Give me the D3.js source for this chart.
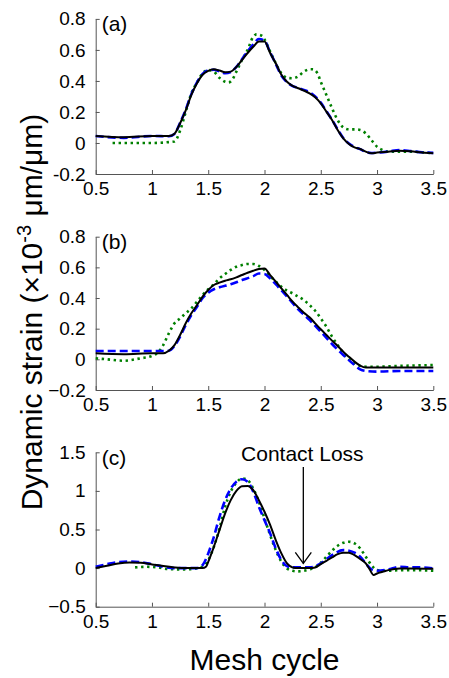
<!DOCTYPE html>
<html>
<head>
<meta charset="utf-8">
<script src="https://cdn.jsdelivr.net/npm/d3@7"></script>
<style>
  body { margin: 0; background: #fff; }
  text { font-family: "Liberation Sans", Arial, sans-serif; fill: #000; }
</style>
</head>
<body>
<script>
const width = 449;
const height = 678;
const marginLeft = 95.7;
const marginRight = 15.7;

const xTicks = [0.5, 1, 1.5, 2, 2.5, 3, 3.5];
const xTickLabels = ["0.5", "1", "1.5", "2", "2.5", "3", "3.5"];

// panel (a)
const aYTicks = [-0.2, 0, 0.2, 0.4, 0.6, 0.8];
const aYLabels = ["-0.2", "0", "0.2", "0.4", "0.6", "0.8"];
const aBlack = [[0.5,0.045],[0.75,0.037],[1.0,0.045],[1.15,0.045],[1.2,0.06],[1.25,0.127],[1.3,0.21],[1.35,0.31],[1.4,0.385],[1.45,0.44],[1.5,0.465],[1.55,0.475],[1.6,0.467],[1.65,0.456],[1.7,0.46],[1.75,0.49],[1.8,0.535],[1.85,0.58],[1.9,0.62],[1.95,0.654],[2.0,0.654],[2.05,0.58],[2.1,0.514],[2.15,0.44],[2.2,0.395],[2.25,0.368],[2.3,0.353],[2.35,0.338],[2.4,0.32],[2.45,0.295],[2.5,0.256],[2.55,0.202],[2.6,0.148],[2.65,0.084],[2.7,0.03],[2.75,-0.006],[2.8,-0.028],[2.85,-0.039],[2.9,-0.056],[2.95,-0.067],[3.0,-0.062],[3.1,-0.056],[3.2,-0.05],[3.3,-0.054],[3.4,-0.062],[3.5,-0.067]];
const aBlue = [[0.5,0.045],[0.75,0.033],[1.0,0.045],[1.15,0.043],[1.2,0.058],[1.25,0.13],[1.3,0.215],[1.35,0.315],[1.4,0.39],[1.45,0.445],[1.5,0.468],[1.55,0.472],[1.6,0.462],[1.65,0.45],[1.7,0.458],[1.75,0.49],[1.8,0.54],[1.85,0.59],[1.9,0.635],[1.95,0.67],[2.0,0.66],[2.05,0.585],[2.1,0.51],[2.15,0.435],[2.2,0.392],[2.25,0.367],[2.3,0.355],[2.35,0.342],[2.4,0.328],[2.45,0.3],[2.5,0.26],[2.55,0.205],[2.6,0.15],[2.65,0.088],[2.7,0.032],[2.75,-0.004],[2.8,-0.026],[2.85,-0.04],[2.9,-0.058],[2.95,-0.065],[3.0,-0.062],[3.1,-0.055],[3.2,-0.046],[3.3,-0.052],[3.4,-0.06],[3.5,-0.064]];
const aGreen = [[0.65,0.0],[1.0,0.0],[1.2,0.01],[1.25,0.08],[1.3,0.2],[1.35,0.32],[1.4,0.39],[1.45,0.45],[1.5,0.47],[1.55,0.46],[1.6,0.42],[1.65,0.395],[1.68,0.39],[1.72,0.415],[1.75,0.46],[1.8,0.535],[1.85,0.6],[1.9,0.686],[1.93,0.7],[1.98,0.69],[2.0,0.668],[2.05,0.59],[2.1,0.514],[2.15,0.45],[2.2,0.42],[2.25,0.417],[2.3,0.43],[2.35,0.46],[2.4,0.475],[2.43,0.475],[2.47,0.45],[2.5,0.395],[2.55,0.31],[2.6,0.224],[2.65,0.148],[2.7,0.1],[2.75,0.088],[2.8,0.088],[2.85,0.084],[2.9,0.062],[2.95,0.019],[3.0,-0.024],[3.05,-0.045],[3.1,-0.056],[3.2,-0.056],[3.3,-0.056],[3.4,-0.06],[3.5,-0.067]];

// panel (b)
const bYTicks = [-0.2, 0, 0.2, 0.4, 0.6, 0.8];
const bYLabels = ["\u22120.2", "0", "0.2", "0.4", "0.6", "0.8"];
const bBlack = [[0.5,0.039],[0.75,0.033],[1.0,0.039],[1.1,0.039],[1.15,0.056],[1.2,0.093],[1.25,0.159],[1.3,0.235],[1.35,0.3],[1.4,0.354],[1.45,0.409],[1.5,0.452],[1.55,0.485],[1.6,0.5],[1.65,0.513],[1.7,0.522],[1.75,0.535],[1.8,0.55],[1.85,0.565],[1.9,0.578],[1.95,0.589],[2.0,0.593],[2.05,0.55],[2.1,0.507],[2.15,0.463],[2.2,0.42],[2.25,0.376],[2.3,0.339],[2.35,0.304],[2.4,0.274],[2.45,0.235],[2.5,0.196],[2.55,0.159],[2.6,0.122],[2.65,0.087],[2.7,0.05],[2.75,0.017],[2.8,-0.015],[2.85,-0.041],[2.9,-0.054],[3.0,-0.054],[3.5,-0.054]];
const bBlue = [[0.5,0.054],[1.1,0.054],[1.15,0.056],[1.2,0.087],[1.25,0.148],[1.3,0.224],[1.35,0.289],[1.4,0.343],[1.45,0.4],[1.5,0.435],[1.55,0.457],[1.6,0.47],[1.7,0.49],[1.8,0.517],[1.9,0.543],[1.95,0.56],[2.0,0.557],[2.05,0.528],[2.1,0.49],[2.2,0.409],[2.3,0.326],[2.4,0.257],[2.5,0.18],[2.6,0.1],[2.7,0.028],[2.8,-0.037],[2.85,-0.065],[2.9,-0.076],[3.0,-0.08],[3.2,-0.076],[3.5,-0.076]];
const bGreen = [[0.5,0.007],[0.6,0.0],[0.75,-0.009],[0.9,0.007],[1.0,0.022],[1.05,0.043],[1.1,0.093],[1.15,0.17],[1.2,0.235],[1.25,0.267],[1.3,0.3],[1.35,0.333],[1.4,0.376],[1.45,0.42],[1.5,0.457],[1.55,0.49],[1.6,0.528],[1.65,0.557],[1.7,0.583],[1.75,0.604],[1.8,0.615],[1.85,0.622],[1.9,0.622],[1.95,0.609],[2.0,0.583],[2.05,0.543],[2.1,0.507],[2.15,0.474],[2.2,0.448],[2.25,0.43],[2.3,0.409],[2.35,0.387],[2.4,0.354],[2.45,0.317],[2.5,0.267],[2.55,0.213],[2.6,0.148],[2.65,0.093],[2.7,0.039],[2.75,0.0],[2.8,-0.026],[2.85,-0.043],[2.9,-0.048],[3.0,-0.048],[3.2,-0.043],[3.5,-0.037]];

// panel (c)
const cYTicks = [-0.5, 0, 0.5, 1, 1.5];
const cYLabels = ["\u22120.5", "0", "0.5", "1", "1.5"];
const cBlack = [[0.5,0.0],[0.6,0.03],[0.7,0.06],[0.8,0.073],[0.9,0.069],[1.0,0.048],[1.1,0.026],[1.2,0.009],[1.3,0.0],[1.45,0.0],[1.48,0.017],[1.5,0.082],[1.55,0.276],[1.6,0.492],[1.65,0.708],[1.7,0.88],[1.75,1.0],[1.8,1.06],[1.85,1.065],[1.9,1.01],[1.95,0.88],[2.0,0.73],[2.05,0.56],[2.1,0.363],[2.15,0.19],[2.2,0.06],[2.25,0.009],[2.3,0.0],[2.4,0.0],[2.45,0.009],[2.5,0.052],[2.55,0.095],[2.6,0.138],[2.65,0.18],[2.7,0.2],[2.75,0.2],[2.8,0.168],[2.85,0.117],[2.9,0.06],[2.93,-0.004],[2.97,-0.09],[3.0,-0.07],[3.05,-0.048],[3.1,-0.026],[3.2,-0.004],[3.3,-0.004],[3.5,-0.009]];
const cBlue = [[0.5,0.017],[0.6,0.05],[0.7,0.078],[0.8,0.086],[0.9,0.078],[1.0,0.05],[1.1,0.017],[1.2,0.0],[1.4,0.0],[1.45,0.04],[1.5,0.19],[1.55,0.406],[1.6,0.665],[1.65,0.88],[1.7,1.03],[1.75,1.12],[1.8,1.15],[1.85,1.12],[1.9,0.99],[1.95,0.795],[2.0,0.62],[2.05,0.45],[2.1,0.255],[2.15,0.104],[2.2,0.026],[2.25,0.009],[2.4,0.009],[2.5,0.06],[2.6,0.168],[2.7,0.233],[2.75,0.225],[2.8,0.2],[2.85,0.147],[2.9,0.06],[2.95,-0.017],[3.0,-0.035],[3.1,-0.017],[3.2,0.017],[3.3,0.009],[3.4,0.009],[3.5,-0.004]];
const cGreen = [[0.85,0.009],[0.95,0.017],[1.05,0.009],[1.15,-0.013],[1.3,-0.017],[1.45,0.017],[1.5,0.104],[1.55,0.276],[1.6,0.514],[1.65,0.795],[1.7,0.99],[1.75,1.106],[1.8,1.162],[1.85,1.14],[1.9,1.03],[1.95,0.86],[2.0,0.644],[2.05,0.428],[2.1,0.233],[2.15,0.082],[2.2,-0.004],[2.25,-0.035],[2.3,-0.043],[2.35,-0.035],[2.4,-0.017],[2.45,0.009],[2.5,0.069],[2.55,0.147],[2.6,0.225],[2.65,0.29],[2.7,0.328],[2.75,0.341],[2.8,0.32],[2.85,0.255],[2.9,0.147],[2.95,0.039],[3.0,-0.026],[3.1,-0.035],[3.2,-0.026],[3.3,-0.026],[3.5,-0.035]];

// annotation in panel (c)
const arrowX = 2.345;
const arrowFrom = 1.31;
const arrowTo = 0.06;

const svg = d3.select("body")
  .append("svg")
  .attr("width", width)
  .attr("height", height);

const xScale = d3.scaleLinear()
  .domain([0.5, 3.5])
  .range([marginLeft, width - marginRight]);

const panels = [
  { label: "(a)", top: 18.9, bottom: 174, domain: [-0.2, 0.8], ticks: aYTicks, tickLabels: aYLabels, series: [aGreen, aBlue, aBlack] },
  { label: "(b)", top: 236.7, bottom: 390, domain: [-0.2, 0.8], ticks: bYTicks, tickLabels: bYLabels, series: [bGreen, bBlue, bBlack] },
  { label: "(c)", top: 452.3, bottom: 606.7, domain: [-0.5, 1.5], ticks: cYTicks, tickLabels: cYLabels, series: [cGreen, cBlue, cBlack] }
];

const styles = [
  { color: "#008000", width: 2.6, dash: "2.4,3.6" },
  { color: "#0000ff", width: 2.6, dash: "8,4" },
  { color: "#000000", width: 2, dash: null }
];

panels.forEach(function(p) {
  const yScale = d3.scaleLinear()
    .domain(p.domain)
    .range([p.bottom, p.top]);

  const g = svg.append("g");

  // x axis (ticks inward)
  const xAxis = d3.axisBottom(xScale)
    .tickValues(xTicks)
    .tickSizeInner(-4)
    .tickSizeOuter(0)
    .tickPadding(8)
    .tickFormat(function(d, i) { return xTickLabels[i]; });
  const gx = g.append("g")
    .attr("transform", `translate(0, ${p.bottom})`)
    .call(xAxis);
  gx.selectAll("text")
    .attr("dy", "0")
    .attr("y", 21)
    .style("font-size", "19px");

  // y axis (ticks inward)
  const yAxis = d3.axisLeft(yScale)
    .tickValues(p.ticks)
    .tickSizeInner(-4)
    .tickSizeOuter(0)
    .tickPadding(10)
    .tickFormat(function(d, i) { return p.tickLabels[i]; });
  const gy = g.append("g")
    .attr("transform", `translate(${marginLeft}, 0)`)
    .call(yAxis);
  gy.selectAll("text")
    .attr("x", -10)
    .style("font-size", "19px");

  g.selectAll(".domain, .tick line")
    .attr("stroke", "#555")
    .attr("stroke-width", 1);

  const line = d3.line()
    .x(function(d) { return xScale(d[0]); })
    .y(function(d) { return yScale(d[1]); })
    .curve(d3.curveMonotoneX);

  p.series.forEach(function(s, i) {
    g.append("path")
      .datum(s)
      .attr("fill", "none")
      .attr("stroke", styles[i].color)
      .attr("stroke-width", styles[i].width)
      .attr("stroke-dasharray", styles[i].dash)
      .attr("d", line);
  });

  g.append("text")
    .attr("x", marginLeft + 6)
    .attr("y", p.top + 12.5)
    .style("font-size", "21px")
    .text(p.label);

  p.yScale = yScale;
});

// Contact Loss arrow in (c)
const yc = panels[2].yScale;
const ax = xScale(arrowX);
const ay0 = yc(arrowFrom);
const ay1 = yc(arrowTo);
svg.append("line")
  .attr("x1", ax).attr("x2", ax)
  .attr("y1", ay0).attr("y2", ay1)
  .attr("stroke", "#000")
  .attr("stroke-width", 1.3);
svg.append("path")
  .attr("d", `M${ax - 8},${ay1 - 11}L${ax},${ay1}L${ax + 8},${ay1 - 11}`)
  .attr("fill", "none")
  .attr("stroke", "#000")
  .attr("stroke-width", 1.3);
svg.append("text")
  .attr("x", ax - 1)
  .attr("y", ay0 - 6)
  .attr("text-anchor", "middle")
  .style("font-size", "21px")
  .text("Contact Loss");

// axis titles
svg.append("text")
  .attr("x", (marginLeft + width - marginRight) / 2)
  .attr("y", 670)
  .attr("text-anchor", "middle")
  .style("font-size", "30px")
  .text("Mesh cycle");

const ylab = svg.append("text")
  .attr("transform", "translate(42, 312) rotate(-90)")
  .attr("text-anchor", "middle")
  .style("font-size", "30px");
ylab.append("tspan").text("Dynamic strain (\u00d710");
ylab.append("tspan").attr("dy", -11).style("font-size", "20px").text("-3");
ylab.append("tspan").attr("dy", 11).text(" \u03bcm/\u03bcm)");
</script>
</body>
</html>
